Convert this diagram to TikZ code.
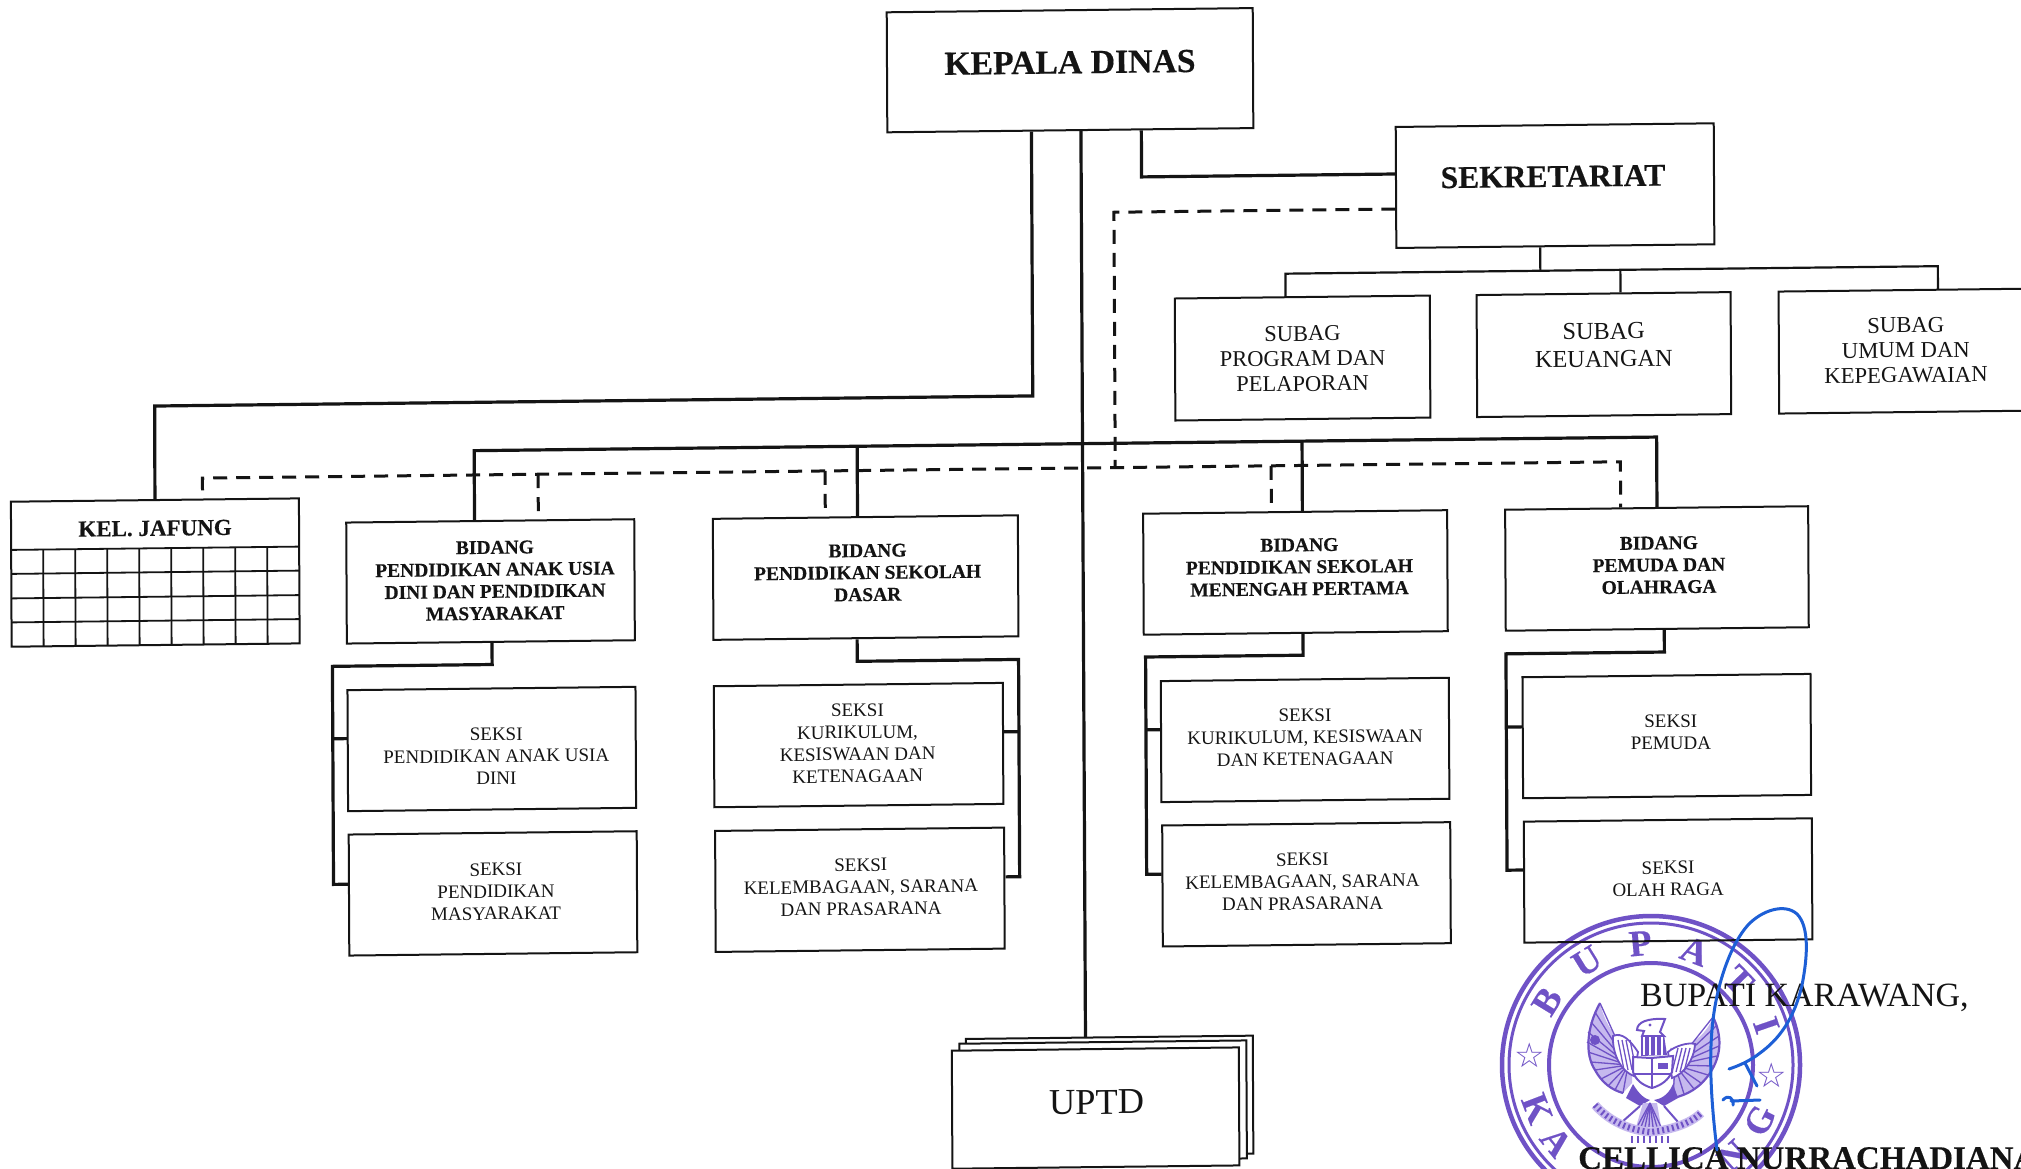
\documentclass[tikz,border=0pt]{standalone}
\usepackage{fontspec}
\usetikzlibrary{calc}
\setmainfont{Liberation Serif}[BoldFeatures={FakeBold=0.3}]
\newfontfamily\symfont{DejaVu Sans}
\definecolor{stampc}{HTML}{6F52C6}
\definecolor{stamplt}{HTML}{C6B9EE}
\definecolor{signc}{HTML}{1D5FD6}
\definecolor{inkc}{HTML}{141414}
\newcommand{\tb}[3]{\raisebox{\dimexpr#2pt-3pt-.5\height+.5\depth\relax}[0pt][0pt]{\makebox[0pt]{\hspace*{\dimexpr#1pt+#1pt\relax}\begin{tabular}{@{}c@{}}#3\end{tabular}}}}
\newcommand{\fs}[2]{\fontsize{#1}{#2}\selectfont}
\tikzset{
  box/.style={draw=inkc,line width=2pt,minimum height=121pt,inner sep=0pt,text=inkc,line join=miter},
  bid/.style={box,minimum width=304pt,font=\bfseries\fs{19.5}{22}},
  sek/.style={box,minimum width=288pt,font=\fs{19}{22}},
  sub/.style={box,minimum width=255pt,minimum height=122pt},
  link/.style={draw=inkc,line width=3.2pt,line join=miter},
  thinlink/.style={draw=inkc,line width=2.2pt,line join=miter},
  dashlink/.style={draw=inkc,line width=3pt,dash pattern=on 14pt off 9pt},
  grid line/.style={draw=inkc,line width=1.8pt},
  stack/.style={box,minimum width=287pt,minimum height=118pt,fill=white},
  stampline/.style={draw=stampc,line width=#1},
  feather/.style={draw=stampc,line width=1.3pt},
  sign/.style={draw=signc,line width=3pt,line cap=round,line join=round},
  stampletter/.style={text=stampc,font=\bfseries\fs{37}{37},inner sep=0pt}
}
\begin{document}
\begin{tikzpicture}[x=1pt,y=-1pt]
\useasboundingbox (0,0) rectangle (2021,1168);
\fill[white] (0,0) rectangle (2021,1168);
% ---------- stamp ----------
\coordinate (sc) at (1651,1065);
\draw[stampline=4.5pt] (sc) circle[radius=149pt];
\draw[stampline=3pt] (sc) circle[radius=142pt];
\draw[stampline=4pt] (sc) circle[radius=102pt];
\foreach \a/\l [count=\i] in {148.5/B,121.7/U,95/P,69/A,44/T,19/I}
  \node[stampletter,rotate=\a-90] (sltop\i) at ($(sc)+(\a:122pt)$) {\l};
\foreach \a/\l [count=\i] in {201/K,219/A,312/N,333/G}
  \node[stampletter,rotate=\a+90] (slbot\i) at ($(sc)+(\a:122pt)$) {\l};
\node[text=stampc,font=\symfont\fs{34}{34},inner sep=0pt] (starl) at (1530,1055) {☆};
\node[text=stampc,font=\symfont\fs{34}{34},inner sep=0pt] (starr) at (1772,1075) {☆};
% eagle: primary feathers
\fill[stamplt] (1600,1003) .. controls (1586,1028) and (1585,1055) .. (1595,1070) .. controls (1602,1083) and (1612,1090) .. (1623,1093) -- (1632,1083) -- (1633,1047) .. controls (1622,1044) and (1607,1032) .. (1600,1003) -- cycle;
\fill[stamplt] (1713,1017) .. controls (1722,1035) and (1722,1055) .. (1710,1073) .. controls (1700,1088) and (1687,1095) .. (1673,1098) -- (1673,1077) -- (1670,1048) .. controls (1687,1048) and (1705,1038) .. (1713,1017) -- cycle;
\foreach \px/\py in {1600/1003,1595/1012,1591/1022,1588/1032,1587/1042,1588/1052,1591/1062,1595/1070,1601/1079,1608/1086,1615/1090,1623/1093}
  \draw[feather] (1628,1065) -- (\px,\py);
\foreach \px/\py in {1713/1017,1716/1026,1719/1036,1719/1046,1717/1056,1713/1066,1708/1075,1701/1083,1694/1089,1684/1094,1673/1098}
  \draw[feather] (1675,1065) -- (\px,\py);
\draw[stampline=2.2pt] (1600,1003) .. controls (1586,1028) and (1585,1055) .. (1595,1070) .. controls (1602,1083) and (1612,1090) .. (1623,1093);
\draw[stampline=2.2pt] (1713,1017) .. controls (1722,1035) and (1722,1055) .. (1710,1073) .. controls (1700,1088) and (1687,1095) .. (1673,1098);
\fill[stampc] (1595,1040) circle[radius=5pt];
% eagle: secondary feathers
\draw[stampline=1.8pt,fill=white] (1613,1036) .. controls (1622,1032) and (1630,1040) .. (1638,1052) -- (1634,1076) .. controls (1622,1072) and (1612,1055) .. (1613,1036) -- cycle;
\draw[stampline=1.8pt,fill=white] (1695,1044) .. controls (1688,1042) and (1675,1046) .. (1668,1052) -- (1672,1078) .. controls (1684,1074) and (1694,1060) .. (1695,1044) -- cycle;
\foreach \ox in {1618,1622,1626,1630}
  \draw[feather] (\ox,1040) -- ({\ox+6},1070);
\foreach \ox in {1690,1686,1682,1678}
  \draw[feather] (\ox,1048) -- ({\ox-6},1072);
% eagle: head, neck
\draw[stampline=2pt,fill=white] (1637,1030) .. controls (1637,1022) and (1648,1018) .. (1665,1019) -- (1660,1032) -- (1664,1036) -- (1642,1036) -- (1644,1031) -- cycle;
\fill[stampc] (1641,1036) -- (1664,1035) -- (1667,1055) -- (1641,1056) -- cycle;
\foreach \ox in {1644,1650,1656,1662}
  \draw[draw=white,line width=1.2pt] (\ox,1037) -- (\ox,1055);
\fill[stampc] (1650,1025) circle[radius=1.6pt];
% eagle: shield
\draw[stampline=2pt,fill=white] (1633,1057) -- (1651,1058) -- (1673,1056) -- (1672,1072) .. controls (1668,1080) and (1662,1085) .. (1652,1088) .. controls (1642,1085) and (1636,1080) .. (1633,1072) -- cycle;
\draw[stampline=1.6pt] (1652,1057) -- (1652,1088) (1633,1074) -- (1672,1074);
\fill[stampc] (1658,1063) rectangle (1668,1069);
% eagle: claws, tail, ribbon
\fill[stampc] (1633,1084) .. controls (1640,1096) and (1646,1099) .. (1650,1100) -- (1640,1106) -- (1626,1098) -- cycle;
\fill[stampc] (1673,1084) .. controls (1668,1096) and (1660,1099) .. (1654,1100) -- (1664,1106) -- (1678,1098) -- cycle;
\draw[stampline=2pt] (1640,1106) -- (1622,1122) (1664,1106) -- (1678,1122);
\fill[stamplt] (1643,1103) -- (1657,1103) -- (1661,1127) -- (1636,1127) -- cycle;
\foreach \px in {1637,1641,1645,1649,1653,1657,1661}
  \draw[feather] (1650,1103) -- (\px,1127);
\draw[stamplt,line width=9pt] (1595,1105) .. controls (1610,1122) and (1630,1130) .. (1650,1132) .. controls (1670,1130) and (1690,1124) .. (1701,1113);
\draw[stampc,line width=6pt,dash pattern=on 2pt off 3pt] (1595,1105) .. controls (1610,1122) and (1630,1130) .. (1650,1132) .. controls (1670,1130) and (1690,1124) .. (1701,1113);
\foreach \px in {1632,1638,1644,1650,1656,1662,1668}
  \draw[feather] (\px,1136) -- (\px,1143);
% ---------- chart, with the scan's slight skew ----------
\begin{scope}[cm={1,0.0115,-0.005,1,(0,0)},transform shape]
\node[box,minimum width=366pt,minimum height=120pt,font=\bfseries\fs{33.7}{36}] (kepala) at (1069.6,82.5) {\tb{0}{7}{KEPALA DINAS}};
\node[box,minimum width=318pt,font=\bfseries\fs{31.5}{36}] (sekre) at (1554,203.5) {\tb{-2}{9}{SEKRETARIAT}};
\node[sub,font=\fs{22.5}{25}] (sub1) at (1300.7,373) {\tb{0}{0}{SUBAG\\PROGRAM DAN\\PELAPORAN}};
\node[sub,minimum width=254pt,font=\fs{24.3}{28}] (sub2) at (1602,373) {\tb{0}{10}{SUBAG\\KEUANGAN}};
\node[sub,minimum width=254pt,font=\fs{22.7}{25}] (sub3) at (1904,373) {\tb{0}{1.5}{SUBAG\\UMUM DAN\\KEPEGAWAIAN}};
% Jafung
\node[box,minimum width=288pt,minimum height=145pt,font=\bfseries\fs{23}{26}] (jafung) at (152.4,574.3) {\tb{0}{45}{KEL. JAFUNG}};
\foreach \ry in {550,574,598.5,622.5}
  \draw[grid line] (8.4,\ry) -- (296.4,\ry);
\foreach \cx in {1,...,8}
  \draw[grid line] ({8.4+32*\cx},550) -- ({8.4+32*\cx},646.8);
% Bidang
\node[bid,minimum width=288pt] (b1) at (487.6,587) {\tb{4.5}{2}{BIDANG\\PENDIDIKAN ANAK USIA\\DINI DAN PENDIDIKAN\\MASYARAKAT}};
\node[bid,minimum width=305pt] (b2) at (862.7,587.5) {\tb{2}{6}{BIDANG\\PENDIDIKAN SEKOLAH\\DASAR}};
\node[bid] (b3) at (1292.5,587.3) {\tb{4}{6.5}{BIDANG\\PENDIDIKAN SEKOLAH\\MENENGAH PERTAMA}};
\node[bid,minimum width=303pt] (b4) at (1654,587.5) {\tb{2}{4.5}{BIDANG\\PEMUDA DAN\\OLAHRAGA}};
% Seksi
\node[sek] (s1a) at (488,754.6) {\tb{4.5}{-6}{SEKSI\\PENDIDIKAN ANAK USIA\\DINI}};
\node[sek] (s1b) at (488.5,899) {\tb{3}{3}{SEKSI\\PENDIDIKAN\\MASYARAKAT}};
\node[sek,minimum width=289pt] (s2a) at (854.8,754.9) {\tb{-1}{3}{SEKSI\\KURIKULUM,\\KESISWAAN DAN\\KETENAGAAN}};
\node[sek,minimum width=289pt] (s2b) at (855.4,899.6) {\tb{1}{4}{SEKSI\\KELEMBAGAAN, SARANA\\DAN PRASARANA}};
\node[sek] (s3a) at (1301.3,754.9) {\tb{0}{4}{SEKSI\\KURIKULUM, KESISWAAN\\DAN KETENAGAAN}};
\node[sek] (s3b) at (1302,899.3) {\tb{-4}{4}{SEKSI\\KELEMBAGAAN, SARANA\\DAN PRASARANA}};
\node[sek] (s4a) at (1663,755.2) {\tb{4}{5}{SEKSI\\PEMUDA}};
\node[sek] (s4b) at (1663.6,899.6) {\tb{0}{3}{SEKSI\\OLAH RAGA}};
% UPTD
\node[stack] (uptdc) at (1104,1109) {};
\node[stack] (uptdb) at (1097.5,1113.7) {};
\node[stack,font=\fs{36.4}{40}] (uptd) at (1090,1120.6) {\tb{1}{5}{UPTD}};
% junction coordinates
\coordinate (kj) at (1030.5,407.7);
\coordinate (jj) at (152.6,407.7);
\coordinate (ks) at (1140.4,190);
\coordinate (busl) at (471.8,456);
\coordinate (busr) at (1654,456);
\coordinate (b2j) at (854.7,456);
\coordinate (b3j) at (1299.5,456);
\coordinate (dtop) at (1112.6,225);
\coordinate (dmid) at (1112.6,480.3);
\coordinate (dl) at (200,480.3);
\coordinate (dle) at (200,492.5);
\coordinate (dr) at (1617.7,480.3);
\coordinate (d1) at (535.6,480.3);
\coordinate (d2) at (822.5,480.3);
\coordinate (d3) at (1268.5,480.3);
\coordinate (st) at (1538.6,288.4);
\coordinate (st1) at (1283.7,288.4);
\coordinate (st2) at (1618.6,288.4);
\coordinate (st3) at (1936,288.4);
% solid connectors
\draw[link] ([xshift=-39.1pt]kepala.south) -- (kj) -- (jj) -- (jafung.north);
\draw[link] ([xshift=10.4pt]kepala.south) -- ([xshift=-24pt]uptdc.north);
\draw[link] ([xshift=70.8pt]kepala.south) -- (ks) -- ([yshift=13.5pt]sekre.west);
\draw[link] ([xshift=-15.8pt]b1.north) -- (busl) -- (busr) -- (b4.north);
\draw[link] (b2j) -- ([xshift=-8pt]b2.north);
\draw[link] (b3j) -- ([xshift=7pt]b3.north);
% dashed connectors
\draw[dashlink] ([yshift=-21.5pt]sekre.west) -- (dtop) -- (dmid);
\draw[dashlink] (dle) -- (dl) -- (dr) -- ([xshift=-36.3pt]b4.north);
\draw[dashlink] (d1) -- ([xshift=48pt]b1.north);
\draw[dashlink] (d2) -- ([xshift=-40.2pt]b2.north);
\draw[dashlink] (d3) -- ([xshift=-24pt]b3.north);
% sekretariat to subag
\draw[thinlink] ([xshift=-15.4pt]sekre.south) -- (st);
\draw[thinlink] ([xshift=-17pt]sub1.north) -- (st1) -- (st3) -- ([xshift=32pt]sub3.north);
\draw[thinlink] (st2) -- ([xshift=16.6pt]sub2.north);
% bidang to seksi
\coordinate (b1j) at (488.7,670);
\coordinate (r1t) at (329,670);
\coordinate (r1m) at (329,742.4);
\coordinate (r1b) at (329,888);
\draw[link] ([xshift=1pt]b1.south) -- (b1j) -- (r1t) -- (r1b) -- ([yshift=11pt]s1b.west);
\draw[link] (r1m) -- ([yshift=12.2pt]s1a.west);
\coordinate (b2k) at (853.7,671);
\coordinate (r2t) at (1015,671);
\coordinate (r2m) at (1015,743.2);
\coordinate (r2b) at (1015,888.2);
\draw[link] ([xshift=-9pt]b2.south) -- (b2k) -- (r2t) -- (r2b) -- ([yshift=11.4pt]s2b.east);
\draw[link] (r2m) -- ([yshift=11.7pt]s2a.east);
\coordinate (b3k) at (1299.5,670);
\coordinate (r3t) at (1142,670);
\coordinate (r3m) at (1142,742.8);
\coordinate (r3b) at (1142,887.3);
\draw[link] ([xshift=7pt]b3.south) -- (b3k) -- (r3t) -- (r3b) -- ([yshift=12pt]s3b.west);
\draw[link] (r3m) -- ([yshift=12pt]s3a.west);
\coordinate (b4k) at (1660.7,671);
\coordinate (r4t) at (1502.3,671);
\coordinate (r4m) at (1502.3,744.2);
\coordinate (r4b) at (1502.3,887.3);
\draw[link] ([xshift=6.7pt]b4.south) -- (b4k) -- (r4t) -- (r4b) -- ([yshift=12.3pt]s4b.west);
\draw[link] (r4m) -- ([yshift=11pt]s4a.west);
\end{scope}
% ---------- signature block ----------
\node[anchor=west,inner sep=0pt,text=inkc,font=\fs{34}{36}] (bupati) at (1640,998) {BUPATI KARAWANG,};
\node[anchor=base west,inner sep=0pt,text=inkc,font=\bfseries\fs{33}{36}] (nama) at (1578,1169) {CELLICA NURRACHADIANA};
\draw[sign] (1717,1150) .. controls (1712,1110) and (1708,1060) .. (1713,1020) .. controls (1717,985) and (1730,945) .. (1748,925) .. controls (1762,910) and (1785,903) .. (1797,914) .. controls (1809,926) and (1808,955) .. (1802,985) .. controls (1794,1020) and (1778,1040) .. (1760,1053) .. controls (1750,1061) and (1738,1066) .. (1729,1069);
\draw[sign] (1745,1063) -- (1757,1086);
\draw[sign] (1723,1100) .. controls (1728,1094) and (1734,1098) .. (1733,1105) (1731,1101) -- (1760,1100);
\end{tikzpicture}
\end{document}
